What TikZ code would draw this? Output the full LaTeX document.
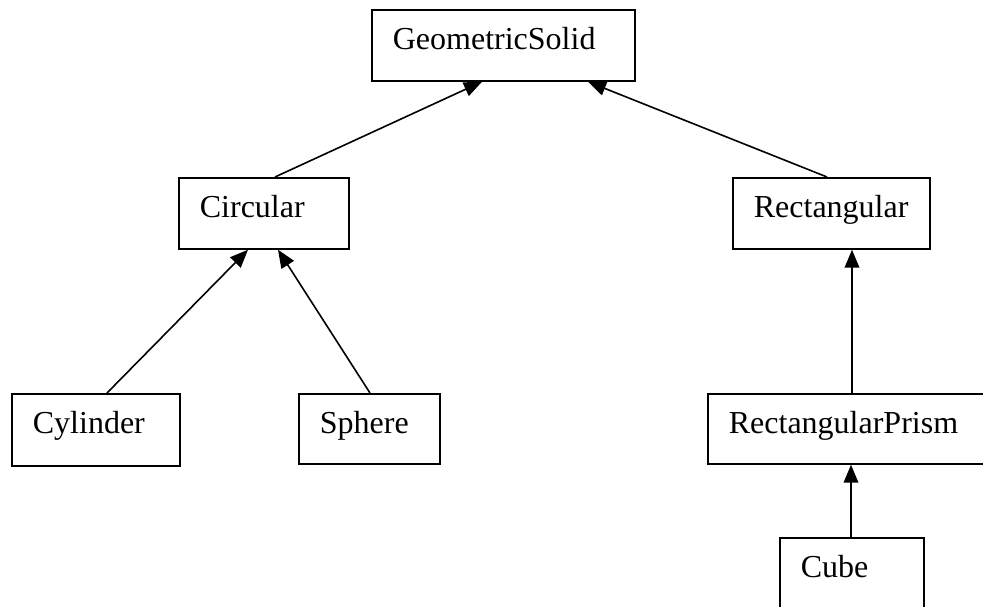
\documentclass[tikz,border=0pt]{standalone}
\usepackage{fontspec}
\setmainfont{Liberation Serif}
\usetikzlibrary{arrows.meta,calc}

\begin{document}
\begin{tikzpicture}[x=0.75pt,y=-0.75pt,
    box/.style={draw, line width=1.3pt, anchor=north west, align=flush left,
      inner xsep=15.75pt, inner ysep=0pt, text height=30pt,
      font={\fontsize{24}{28}\selectfont\hyphenpenalty=10000}},
    isa/.style={-{Triangle[length=13.5pt,width=11pt]}, line width=1.2pt}]
   \useasboundingbox (0,0) rectangle (983,607);
   \clip (0,0) rectangle (983,607);
   \node[box, text width=165.75pt, text depth=23.25pt] (gs)    at (371,9)   {GeometricSolid};
   \node[box, text width=96pt,     text depth=23.25pt] (circ)  at (178,177) {Circular};
   \node[box, text width=116.25pt, text depth=23.25pt] (rect)  at (732,177) {Rectangular};
   \node[box, text width=94.5pt,   text depth=24pt]    (cyl)   at (11,393)  {Cylinder};
   \node[box, text width=74.25pt,  text depth=22.5pt]  (sph)   at (298,393) {Sphere};
   \node[box, text width=193.5pt,  text depth=22.5pt]  (prism) at (707,393) {RectangularPrism};
   \node[box, text width=76.5pt,   text depth=30pt]    (cube)  at (779,537) {Cube};
    % generalisation arrows
    \draw[isa] ($(circ.north west)+(97,0)$)  -- ($(gs.south west)+(111,0)$);
    \draw[isa] ($(rect.north west)+(95,0)$)  -- ($(gs.south west)+(217,0)$);
    \draw[isa] ($(cyl.north west)+(96,0)$)   -- ($(circ.south west)+(70,0)$);
    \draw[isa] ($(sph.north west)+(72,0)$)   -- ($(circ.south west)+(100,0)$);
    \draw[isa] ($(prism.north west)+(145,0)$) -- ($(rect.south west)+(120,0)$);
    \draw[isa] ($(cube.north west)+(72,0)$)  -- ($(prism.south west)+(144,0)$);
\end{tikzpicture}
\end{document}
